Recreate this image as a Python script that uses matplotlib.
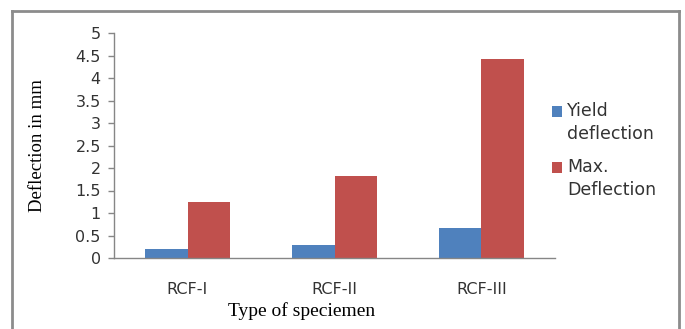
import matplotlib.pyplot as plt
from matplotlib.lines import Line2D
import numpy as np

categories = ["RCF-I", "RCF-II", "RCF-III"]
yield_defl = [0.21, 0.29, 0.66]
max_defl = [1.24, 1.82, 4.42]
y_ticks = [0, 0.5, 1, 1.5, 2, 2.5, 3, 3.5, 4, 4.5, 5]
y_tick_labels = ["0", "0.5", "1", "1.5", "2", "2.5", "3", "3.5", "4", "4.5", "5"]

W, H = 685, 329
fig = plt.figure(figsize=(W / 100, H / 100), dpi=100)
ax = fig.add_axes([114 / W, (H - 258) / H, (555 - 114) / W, (258 - 33) / H])

x = np.arange(len(categories))
bw = 0.286
ax.bar(x - bw / 2, yield_defl, bw, color="#4F81BD", label="Yield\ndeflection")
ax.bar(x + bw / 2, max_defl, bw, color="#C0504D", label="Max.\nDeflection")

ax.set_xlim(-0.5, 2.5)
ax.set_ylim(0, 5)
ax.set_yticks(y_ticks)
ax.set_yticklabels(y_tick_labels)
ax.set_xticks(x)
ax.set_xticklabels(categories)

tick_font = "DejaVu Sans"
for lbl in ax.get_yticklabels() + ax.get_xticklabels():
    lbl.set_fontfamily(tick_font)
    lbl.set_fontsize(11.5)
    lbl.set_color("#333333")

ax.tick_params(axis="y", direction="out", length=4.5, width=1, color="#868686", pad=5)
ax.tick_params(axis="x", length=0, pad=17)

for s in ["top", "right"]:
    ax.spines[s].set_visible(False)
for s in ["left", "bottom"]:
    ax.spines[s].set_color("#868686")
    ax.spines[s].set_linewidth(1)

fig.text(37 / W, 1 - 146 / H, "Deflection in mm", rotation=90, ha="center",
         va="center", family="Liberation Serif", fontsize=13.5)
fig.text(302 / W, 1 - 311 / H, "Type of speciemen", ha="center", va="center",
         family="Liberation Serif", fontsize=14)

leg_fs = 12.5
leg = ax.legend(loc="upper left", bbox_to_anchor=(536 / W, 1 - 86 / H),
                bbox_transform=fig.transFigure, frameon=False,
                prop={"family": tick_font, "size": leg_fs},
                handlelength=0.6, handleheight=0.6, handletextpad=0.3,
                labelspacing=0.9, labelcolor="#333333")
for t in leg.get_texts():
    t.set_linespacing(1.35)
# put the colour squares next to the first line of each label
for h in leg.legend_handles:
    h.set_y(h.get_y() + 0.68 * leg_fs)

# outer chart border (bottom edge is cropped in the original)
bc = "#8c8c8c"
fig.add_artist(Line2D([12 / W, 12 / W], [0, 1 - 11 / H], color=bc, lw=2,
                      transform=fig.transFigure))
fig.add_artist(Line2D([12 / W, 679 / W], [1 - 11 / H, 1 - 11 / H], color=bc, lw=2,
                      transform=fig.transFigure))
fig.add_artist(Line2D([679 / W, 679 / W], [0, 1 - 11 / H], color=bc, lw=2,
                      transform=fig.transFigure))

fig.savefig("out.png", dpi=100)
